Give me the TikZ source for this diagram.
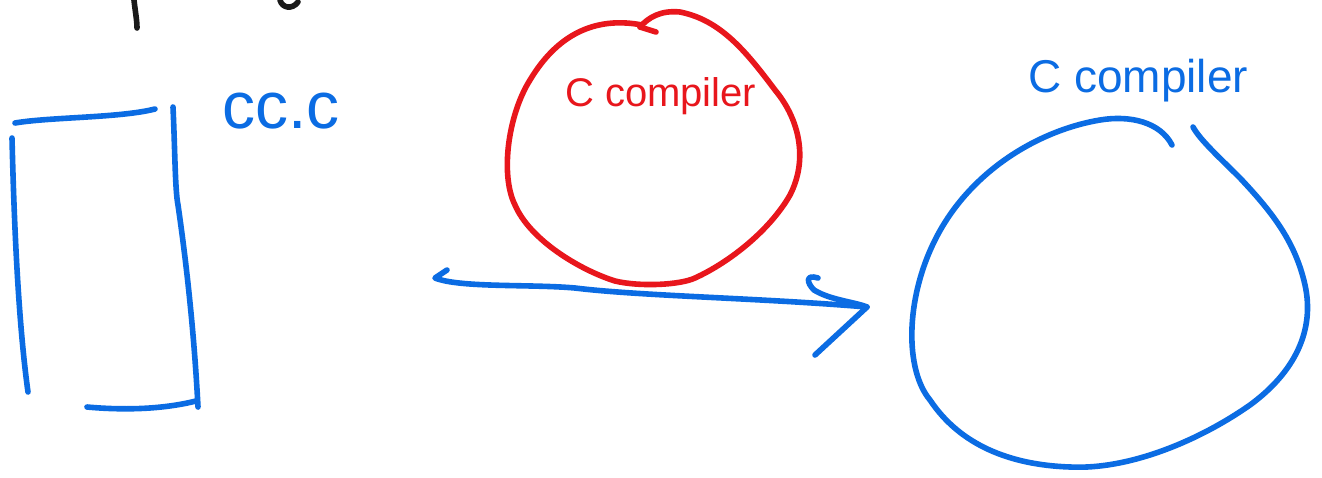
\documentclass[tikz,border=0pt]{standalone}
\usepackage{fontspec}
\setmainfont{Liberation Sans}
\definecolor{inkblue}{HTML}{0B6CE3}
\definecolor{inkred}{HTML}{E8161C}
\definecolor{inkblack}{HTML}{1A1A1A}
\begin{document}
\begin{tikzpicture}[x=1pt,y=-1pt,
  pen/.style={line width=5.6pt,line cap=round,line join=round},
  bluepen/.style={pen,draw=inkblue},
  redpen/.style={pen,draw=inkred},
  blackpen/.style={pen,draw=inkblack},
  hand/.style={inner sep=0pt,anchor=base west}]
\useasboundingbox[fill=white] (0,0) rectangle (1322,477);
% black partial strokes at the top edge
\draw[blackpen] (134,0) .. controls (135,10) and (137,20) .. (137,28);
\draw[blackpen] (280,0) .. controls (282,8) and (292,10) .. (298,2);
% left rectangle
\draw[bluepen] (15,123) .. controls (50,117) and (120,118) .. (155,109);
\draw[bluepen] (12,138) .. controls (14,220) and (18,320) .. (28,392);
\draw[bluepen] (173,107) .. controls (175,150) and (175,190) .. (178,205)
  .. controls (186,260) and (194,330) .. (198,407);
\draw[bluepen] (87,407) .. controls (120,410) and (160,410) .. (196,401);
\node[hand,text=inkblue,font=\fontsize{66}{66}\selectfont] (cc) at (222,128) {cc.c};
% red circle
\draw[redpen] (642,25) .. controls (600,17) and (560,30) .. (530,80)
  .. controls (508,115) and (500,175) .. (515,205)
  .. controls (530,240) and (580,270) .. (615,281)
  .. controls (640,287) and (680,285) .. (695,278)
  .. controls (730,262) and (770,230) .. (790,195)
  .. controls (808,160) and (800,120) .. (775,90)
  .. controls (745,50) and (720,20) .. (680,12)
  .. controls (660,10) and (648,18) .. (640,27);
\draw[redpen] (640,27) -- (656,32);
\node[hand,text=inkred,font=\fontsize{40}{40}\selectfont] (rc) at (565,106) {C compiler};
% arrow
\coordinate (as) at (435,278);
\coordinate (ae) at (867,307);
\draw[bluepen] (447,270) -- (as) .. controls (460,288) and (530,284) .. (575,288)
  .. controls (640,296) and (760,298) .. (ae);
\draw[bluepen] (818,278) .. controls (806,274) and (806,282) .. (814,290)
  .. controls (830,300) and (855,302) .. (ae) -- (815,355);
% blue circle
\draw[bluepen] (1172,145) .. controls (1160,122) and (1130,115) .. (1100,120)
  .. controls (1040,130) and (970,170) .. (935,240)
  .. controls (905,300) and (905,370) .. (930,400)
  .. controls (960,445) and (1010,465) .. (1070,467)
  .. controls (1130,470) and (1200,440) .. (1250,405)
  .. controls (1295,372) and (1315,330) .. (1305,285)
  .. controls (1295,240) and (1270,210) .. (1240,178)
  .. controls (1220,158) and (1200,140) .. (1193,127);
\node[hand,text=inkblue,font=\fontsize{46}{46}\selectfont] (bc) at (1028,92) {C compiler};
\end{tikzpicture}
\end{document}
